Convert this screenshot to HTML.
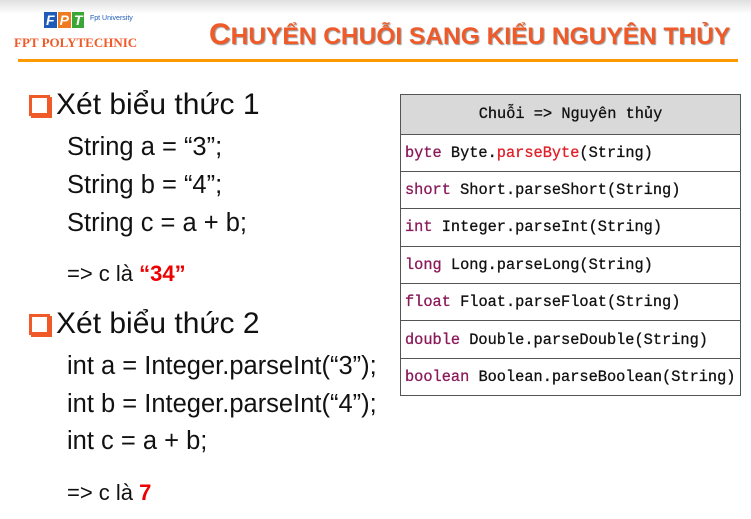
<!DOCTYPE html>
<html><head><meta charset="utf-8"><style>
body{margin:0;width:751px;height:519px;background:#fff;position:relative;overflow:hidden;font-family:"Liberation Sans","DejaVu Sans",sans-serif;color:#111}
.a{position:absolute;white-space:nowrap}
.code{font-size:25.5px;line-height:28px}
.h{font-size:30px;line-height:32px}
.cb{position:absolute;width:15px;height:15px;border:3px solid #f05a28;background:#fff;box-shadow:2px 2px 0 #f05a28}
table{position:absolute;left:400px;top:94px;width:341px;border-collapse:collapse;font-family:"Liberation Mono",monospace;font-size:15.3px}
td{border:1.5px solid #555;height:36.4px;padding:0 0 0 4px;color:#111;-webkit-text-stroke:0.3px}
th{border:1.5px solid #555;height:36.5px;background:#d9d9d9;font-weight:normal;color:#111;-webkit-text-stroke:0.3px}
.k{color:#8b1a5a}
</style></head><body>
<div class="a" style="left:0;top:0;width:751px;height:14px;background:linear-gradient(#e0e0e0,#fff)"></div>
<div class="a" style="left:44px;top:12px;font:bold italic 14px 'Liberation Sans';color:#fff">
<span style="background:#1e5bb8;padding:0 2px">F</span><span style="background:#f07a20;padding:0 2px;margin-left:1px">P</span><span style="background:#3aa635;padding:0 2px;margin-left:1px">T</span></div>
<div class="a" style="left:90px;top:15px;font-size:7px;color:#1e5bb8">Fpt University</div>
<div class="a" style="left:14px;top:35px;font:bold 13px 'Liberation Serif',serif;color:#f05a28">FPT POLYTECHNIC</div>
<div class="a" style="left:209px;top:18px;font-weight:bold;color:#f05a28;font-size:24.5px;text-shadow:1px 1px 1px #999"><span style="font-size:30px">C</span>HUYỂN CHUỖI SANG KIỂU NGUYÊN THỦY</div>
<div class="a" style="left:18px;top:59px;width:720px;height:3px;background:#f90"></div>

<div class="cb" style="left:29px;top:95px"></div>
<div class="a h" style="left:56px;top:89px">Xét biểu thức 1</div>
<div class="a code" style="left:67px;top:133px">String a = “3”;</div>
<div class="a code" style="left:67px;top:171px">String b = “4”;</div>
<div class="a code" style="left:67px;top:209px">String c = a + b;</div>
<div class="a" style="left:67px;top:261px;font-size:22px">=&gt; c là <b style="color:#e00">“34”</b></div>
<div class="cb" style="left:29px;top:314px"></div>
<div class="a h" style="left:56px;top:308px">Xét biểu thức 2</div>
<div class="a code" style="left:67px;top:352px">int a = Integer.parseInt(“3”);</div>
<div class="a code" style="left:67px;top:390px">int b = Integer.parseInt(“4”);</div>
<div class="a code" style="left:67px;top:427px">int c = a + b;</div>
<div class="a" style="left:67px;top:480px;font-size:22px">=&gt; c là <b style="color:#e00">7</b></div>

<table>
<tr><th>Chuỗi =&gt; Nguyên thủy</th></tr>
<tr><td><span class="k">byte</span> Byte.<span style="color:#e0202a">parseByte</span>(String)</td></tr>
<tr><td><span class="k">short</span> Short.parseShort(String)</td></tr>
<tr><td><span class="k">int</span> Integer.parseInt(String)</td></tr>
<tr><td><span class="k">long</span> Long.parseLong(String)</td></tr>
<tr><td><span class="k">float</span> Float.parseFloat(String)</td></tr>
<tr><td><span class="k">double</span> Double.parseDouble(String)</td></tr>
<tr><td><span class="k">boolean</span> Boolean.parseBoolean(String)</td></tr>
</table>
</body></html>
